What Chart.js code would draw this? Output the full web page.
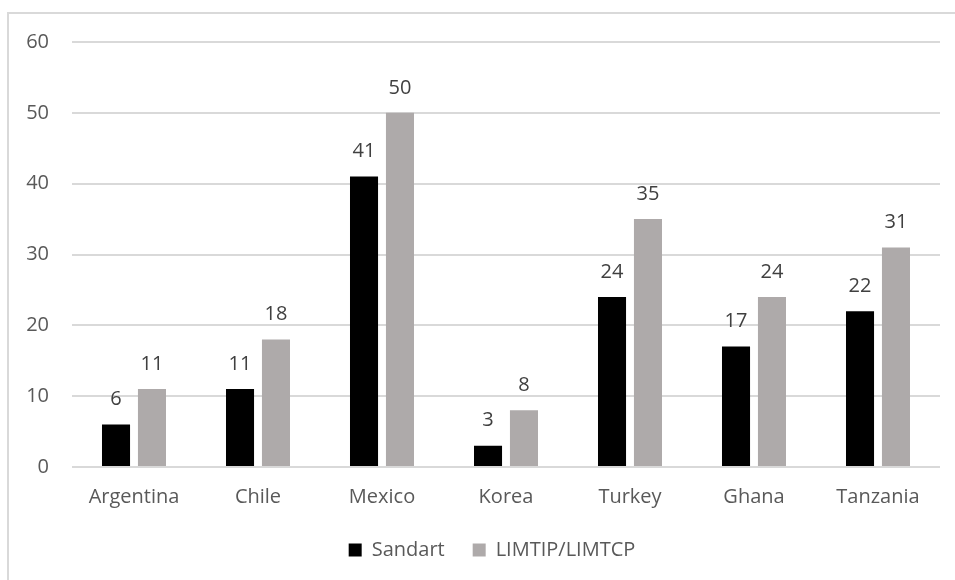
<!DOCTYPE html>
<html>
<head>
<meta charset="utf-8">
<script src="https://cdn.jsdelivr.net/npm/chart.js@4/dist/chart.umd.min.js"></script>
<style>
  html, body { margin: 0; padding: 0; background: #ffffff; overflow: hidden; }
  #frame {
    position: absolute; left: 7px; top: 12px; width: 1000px; height: 620px;
    border-left: 2px solid #d9d9d9; border-top: 2px solid #d9d9d9;
  }
  #wrap { position: absolute; left: 0; top: 0; width: 955px; height: 580px; }
</style>
</head>
<body>
<div id="frame"></div>
<div id="wrap"><canvas id="chart" width="955" height="580"></canvas></div>
<script>
// Countries along the category axis
const countries = ['Argentina', 'Chile', 'Mexico', 'Korea', 'Turkey', 'Ghana', 'Tanzania'];
// Series values
const sandart = [6, 11, 41, 3, 24, 17, 22];
const limtip = [11, 18, 50, 8, 35, 24, 31];
// Value axis ticks
const yTicks = [0, 10, 20, 30, 40, 50, 60];

const FONT = '"Open Sans", "Liberation Sans", sans-serif';
const TEXT = '#595959';

// Writes each bar's value above it
const valueLabels = {
  id: 'valueLabels',
  afterDatasetsDraw(chart) {
    const ctx = chart.ctx;
    ctx.save();
    ctx.font = '20px ' + FONT;
    ctx.fillStyle = '#404040';
    ctx.textAlign = 'center';
    ctx.textBaseline = 'middle';
    chart.data.datasets.forEach((ds, i) => {
      chart.getDatasetMeta(i).data.forEach((bar, j) => {
        ctx.fillText(String(ds.data[j]), bar.x, bar.y - 25);
      });
    });
    ctx.restore();
  }
};

// Sets the legend a little right of the page centre and closer to the axis labels
const legendOffset = {
  id: 'legendOffset',
  afterLayout(chart) {
    const lg = chart.legend;
    if (!lg) return;
    lg.left += 22; lg.right += 22;
    lg.top -= 15; lg.bottom -= 15;
  }
};

new Chart(document.getElementById('chart'), {
  type: 'bar',
  data: {
    labels: countries,
    datasets: [
      { label: 'Sandart', data: sandart, backgroundColor: '#000000',
        categoryPercentage: 0.58, barPercentage: 0.78 },
      { label: 'LIMTIP/LIMTCP', data: limtip, backgroundColor: '#aeaaaa',
        categoryPercentage: 0.58, barPercentage: 0.78 }
    ]
  },
  options: {
    responsive: false,
    animation: false,
    layout: { padding: { left: 0, right: 15, top: 42, bottom: 0 } },
    plugins: {
      tooltip: { enabled: false },
      legend: {
        position: 'bottom',
        maxHeight: 53,
        labels: {
          boxWidth: 13, boxHeight: 13, padding: 28,
          color: TEXT, font: { family: FONT, size: 20 }
        }
      }
    },
    scales: {
      x: {
        grid: { display: false, drawTicks: false },
        border: { display: false },
        ticks: { color: TEXT, font: { family: FONT, size: 20 }, padding: 18 }
      },
      y: {
        min: 0, max: 60,
        afterBuildTicks(scale) { scale.ticks = yTicks.map(v => ({ value: v })); },
        afterFit(scale) { scale.width = 72; },
        grid: { color: '#d9d9d9', lineWidth: 2, drawTicks: false },
        border: { display: false },
        ticks: { color: TEXT, font: { family: FONT, size: 20 }, padding: 23 }
      }
    }
  },
  plugins: [valueLabels, legendOffset]
});
</script>
</body>
</html>
